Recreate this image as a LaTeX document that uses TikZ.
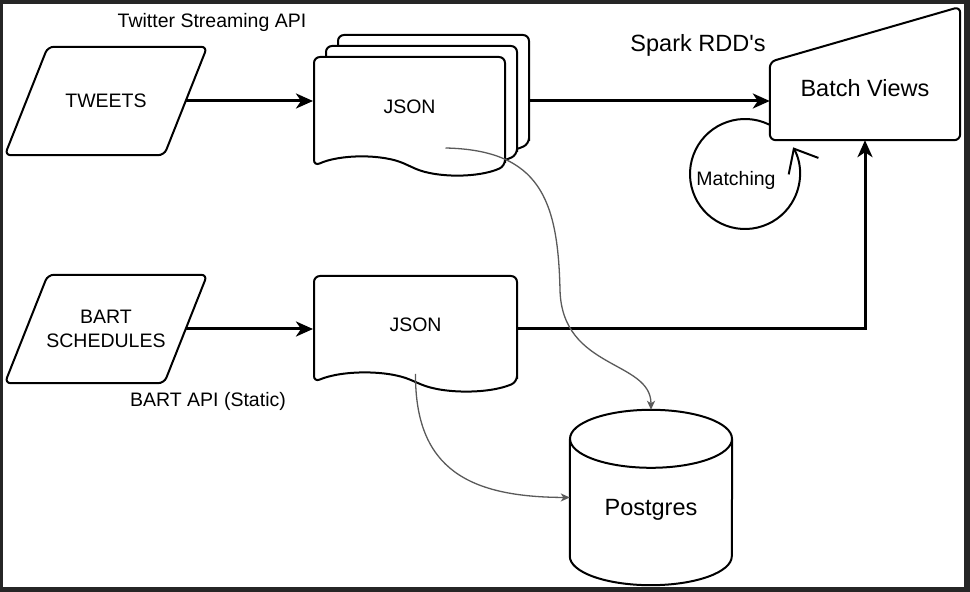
\documentclass[tikz,border=0pt]{standalone}
\usepackage{fontspec}
\setmainfont{Liberation Sans}
\usetikzlibrary{positioning,shapes.symbols,shadows,arrows.meta}
\definecolor{frame}{HTML}{262626}
\definecolor{wiregray}{HTML}{5A5A5A}
\tikzset{
  txt/.style={font=\fontsize{19.5}{24}\selectfont},
  bigtxt/.style={font=\fontsize{23.5}{28}\selectfont},
  source/.style={minimum width=202pt, minimum height=108pt, inner sep=0pt, align=center, txt},
  doc/.style={tape, tape bend top=none, tape bend bottom=out and in,
    tape bend height=18pt, draw, fill=white, line width=2pt, rounded corners=6pt,
    inner sep=0pt, txt},
  shapeline/.style={line width=2pt},
  flow/.style={line width=3pt, -{Stealth[length=17pt, width=15pt, inset=5pt]}},
  store/.style={draw=wiregray, line width=1.3pt, -{Stealth[length=9pt, width=8pt, inset=2.5pt]}}
}
\begin{document}
\begin{tikzpicture}[x=1pt,y=1pt]
  %frame
  \fill[frame] (0,0) rectangle (970,592);
  \fill[white] (3,5) rectangle (964,588);

  %sources
  \node[source] (tweets) at (106,491) {TWEETS};
  \node[source] (bart) at (106,263) {BART\\SCHEDULES};
  \foreach \n in {tweets,bart}
    \draw[shapeline, rounded corners=6pt] (\n.south west) -- ([xshift=43pt]\n.north west)
      -- (\n.north east) -- ([xshift=-43pt]\n.south east) -- cycle;
  \node[txt] (twapi) at (212,570) {Twitter Streaming API};
  \node[txt] (bartapi) at (208,191) {BART API (Static)};

  %json documents
  \node[doc, minimum width=191pt, minimum height=118pt,
    double copy shadow={shadow xshift=12pt, shadow yshift=11pt, line width=2pt}] (json1) at (409.5,485) {JSON};
  \node[doc, minimum width=203pt, minimum height=115pt] (json2) at (415.5,267.5) {JSON};

  %batch views
  \node[minimum width=190pt, minimum height=78pt, inner sep=0pt] (batch) at (865,491) {};
  \draw[shapeline, rounded corners=6pt] (batch.south west) -- (batch.north west)
    -- ([yshift=55pt]batch.north east) -- (batch.south east) -- cycle;
  \node[bigtxt] (batchtext) at ([yshift=13pt]batch.center) {Batch Views};
  \node[bigtxt] (rdd) at (698,547) {Spark RDD\textquotesingle s};

  %matching loop
  \coordinate (loop) at (745,418);
  \node[txt] (match) at (736,412) {Matching};
  \draw[line width=2pt, -{Straight Barb[length=20pt, width=34pt]}] (loop) ++(64:55)
    arc[start angle=64, end angle=389, radius=55];

  %postgres
  \node[minimum width=162pt, minimum height=175pt, inner sep=0pt] (pg) at (651,94.5) {};
  \draw[shapeline] ([yshift=-29pt]pg.north) ellipse [x radius=81, y radius=29];
  \draw[shapeline] ([yshift=-29pt]pg.north west) -- ([yshift=29pt]pg.south west)
    arc[start angle=180, end angle=360, x radius=81, y radius=29] -- ([yshift=-29pt]pg.north east);
  \node[bigtxt] (pgtext) at (651,82) {Postgres};

  %edges
  \draw[flow] ([xshift=-21pt]tweets.east) -- (tweets.east -| json1.west);
  \draw[flow] ([xshift=-21pt]bart.east) -- (bart.east -| json2.west);
  \coordinate (stackend) at ([xshift=24pt]json1.east);
  \draw[flow] (stackend |- tweets.east) -- (batch.west |- tweets.east);
  \draw[flow] (json2.east |- bart.east) -- (batch.south |- bart.east) -- (batch.south);
  \draw[store] ([shift={(36pt,-41pt)}]json1.center) .. controls (540,442) and (558,392) .. (560,302)
    .. controls (562,222) and (651,232) .. (pg.north);
  \draw[store] (json2.south) .. controls (415,122) and (470,95) .. (pg.west);
\end{tikzpicture}
\end{document}
